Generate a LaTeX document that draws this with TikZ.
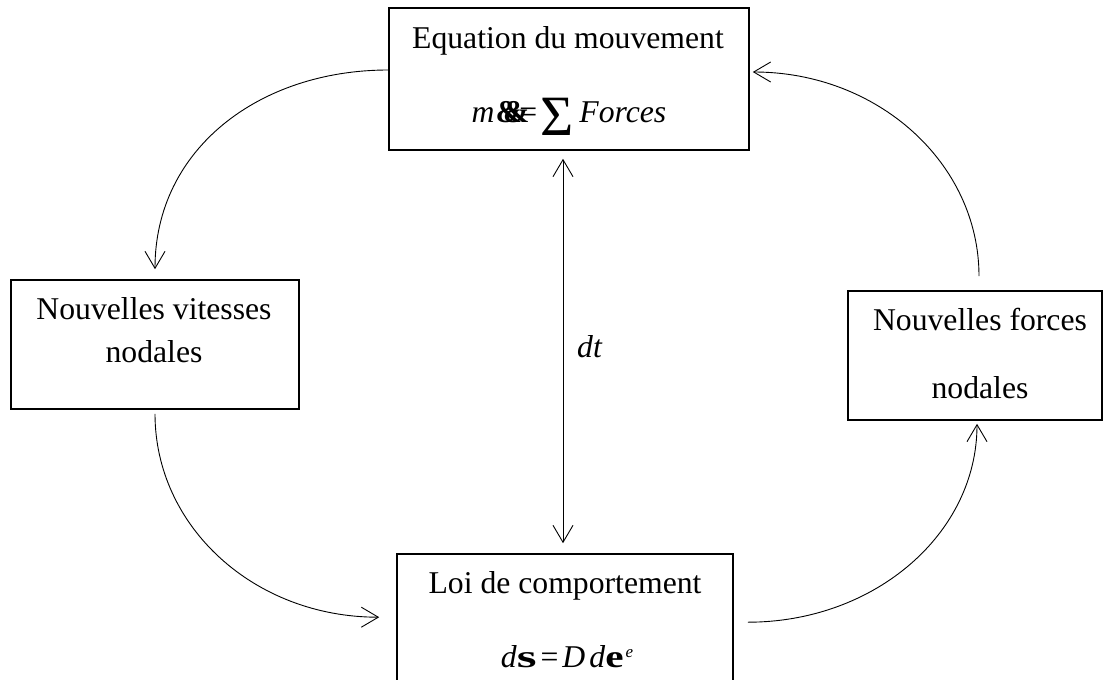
\documentclass[tikz,border=0pt]{standalone}
\usepackage{fontspec}
\usepackage{graphicx}
\setmainfont{Liberation Serif}
\usetikzlibrary{arrows.meta,calc}
\begin{document}
\begin{tikzpicture}[x=1pt,y=-1pt,
  boxnode/.style={draw, line width=1.6pt, rectangle, inner sep=0pt},
  txt/.style={font=\fontsize{31.7}{38}\selectfont, inner sep=0pt, anchor=base},
  conn/.style={line width=0.9pt, -{Straight Barb[length=17pt,width=20pt,line width=0.9pt]}},
  dconn/.style={line width=0.9pt, {Straight Barb[length=17pt,width=20pt,line width=0.9pt]}-{Straight Barb[length=17pt,width=20pt,line width=0.9pt]}}
]
\useasboundingbox (0,0) rectangle (1103,680);
\clip (0,0) rectangle (1103,680);
\fill[white] (0,0) rectangle (1103,680);

% boxes
\node[boxnode, minimum width=360pt, minimum height=142pt] (top) at (569,79) {};
\node[boxnode, minimum width=288pt, minimum height=129pt] (left) at (155,344.5) {};
\node[boxnode, minimum width=254pt, minimum height=129pt] (right) at (975,355.5) {};
\node[boxnode, minimum width=336pt, minimum height=166pt] (bottom) at (565,637) {};

% texts
\node[txt] (t1) at (568,48) {Equation du mouvement};
\node[txt] (t2) at (569,122) {\textit{m}\hspace{1pt}\textbf{\&}\hspace{-19pt}\textbf{\&}\hspace{-10pt}=\hspace{3pt}\raisebox{-13pt}{\fontsize{57}{57}\selectfont Σ}\hspace{6pt}\textit{Forces}};
\node[txt] (l1) at (154,319) {Nouvelles vitesses};
\node[txt] (l2) at (154,362) {nodales};
\node[txt] (r1) at (980,330) {Nouvelles forces};
\node[txt] (r2) at (980,398) {nodales};
\node[txt] (b1) at (565,593) {Loi de comportement};
\node[txt] (b2) at (567,667) {\textit{d}\scalebox{1.6}[1]{\textbf{s}}\hspace{4pt}=\hspace{4pt}\textit{D}\hspace{4pt}\textit{d}\scalebox{1.3}[1]{\textbf{e}}\hspace{2pt}\raisebox{10pt}{\fontsize{17}{17}\selectfont\textit{e}}};
\node[txt, anchor=base west] (dtlabel) at (577,357) {\textit{dt}};

% connectors
\draw[conn] ([yshift=9pt]top.west) .. controls +(-129,0) and +(0,-120) .. ([yshift=10pt]left.north);
\draw[conn] ([xshift=4pt,yshift=14pt]right.north) .. controls +(0,-113) and +(125,0) .. ([xshift=3pt,yshift=7pt]top.east);
\draw[conn] ([yshift=-4pt]left.south) .. controls +(0,113) and +(-125,0) .. ($(bottom.north west)+(-17,64)$);
\draw[conn] ($(bottom.north east)+(14,69)$) .. controls +(127,0) and +(0,110) .. ([xshift=2pt,yshift=-3pt]right.south);
\draw[dconn] ([xshift=-6pt,yshift=-8pt]top.south) -- ([xshift=-2pt,yshift=10pt]bottom.north);
\end{tikzpicture}
\end{document}
